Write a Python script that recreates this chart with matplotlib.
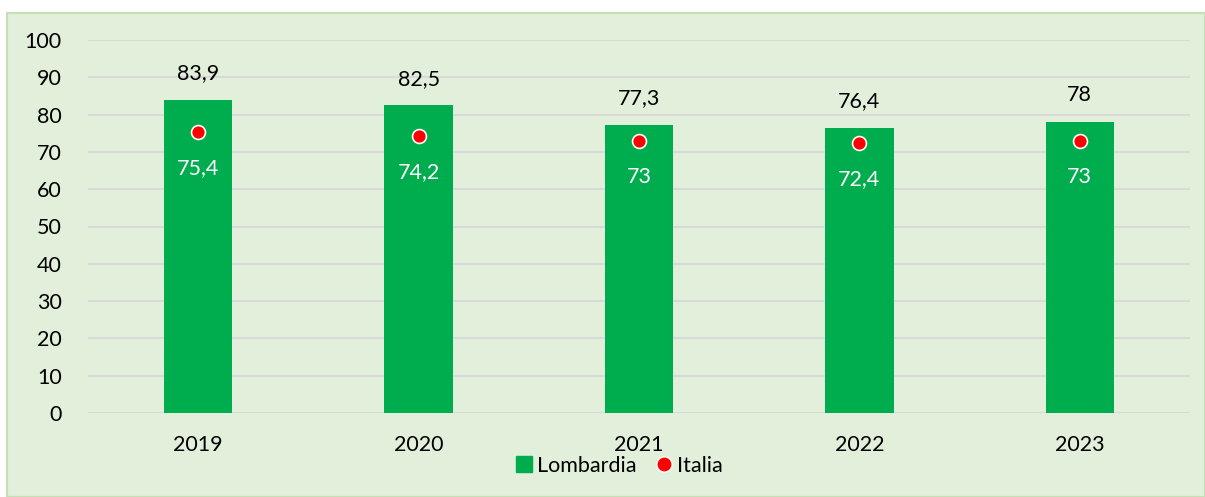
import matplotlib.pyplot as plt
from matplotlib.patches import Rectangle
from matplotlib.lines import Line2D

plt.rcParams['font.family'] = ['Lato', 'DejaVu Sans']

anni = ['2019', '2020', '2021', '2022', '2023']
lombardia = [83.9, 82.5, 77.3, 76.4, 78]
italia = [75.4, 74.2, 73, 72.4, 73]

def fmt(v):
    s = ('%.1f' % v).replace('.', ',')
    return s[:-2] if s.endswith(',0') else s

fig = plt.figure(figsize=(12.05, 4.97), dpi=100)
fig.patch.set_facecolor('white')

# sfondo verde chiaro con bordo
fig.patches.append(Rectangle((7 / 1205, 0), 1 - 7 / 1205, 1 - 13 / 497,
                             transform=fig.transFigure, facecolor='#E2EFDA',
                             edgecolor='#C5E0B4', linewidth=1.5, zorder=-1))

ax = fig.add_axes([88 / 1205, 1 - 413 / 497, (1190 - 88) / 1205, (413 - 40) / 497])
ax.set_facecolor('none')

fs = 15.5
x = range(len(anni))
ax.bar(x, lombardia, width=0.31, color='#00AD4E', zorder=2)
ax.plot(x, italia, 'o', color='#FF0000', markersize=10, markeredgecolor='white',
        markeredgewidth=1.2, zorder=3)

for i in x:
    ax.annotate(fmt(lombardia[i]), (i, lombardia[i]), xytext=(0, 12),
                textcoords='offset points', ha='center', va='bottom', fontsize=fs)
    ax.annotate(fmt(italia[i]), (i, italia[i]), xytext=(0, -26),
                textcoords='offset points', ha='center', va='center',
                fontsize=fs, color='white', zorder=4)

ax.set_xlim(-0.5, 4.5)
ax.set_ylim(0, 100)
ax.set_yticks(range(0, 101, 10))
ax.set_xticks(list(x))
ax.set_xticklabels(anni)
ax.grid(axis='y', color='#D9D9D9', linewidth=1.5, zorder=1)
ax.set_axisbelow(True)
for s in ax.spines.values():
    s.set_visible(False)
ax.tick_params(length=0, labelsize=fs)
ax.tick_params(axis='y', pad=19)
ax.tick_params(axis='x', pad=16)

handles = [Line2D([], [], marker='s', linestyle='none', color='#00AD4E', markersize=11),
           Line2D([], [], marker='o', linestyle='none', color='#FF0000',
                  markeredgecolor='white', markersize=11)]
fig.legend(handles, ['Lombardia', 'Italia'], loc='center', bbox_to_anchor=(618 / 1205, 1 - 466 / 497),
           ncol=2, frameon=False, fontsize=fs, handletextpad=0.1, columnspacing=0.8,
           handlelength=1.0)

fig.savefig('out.png', dpi=100)
